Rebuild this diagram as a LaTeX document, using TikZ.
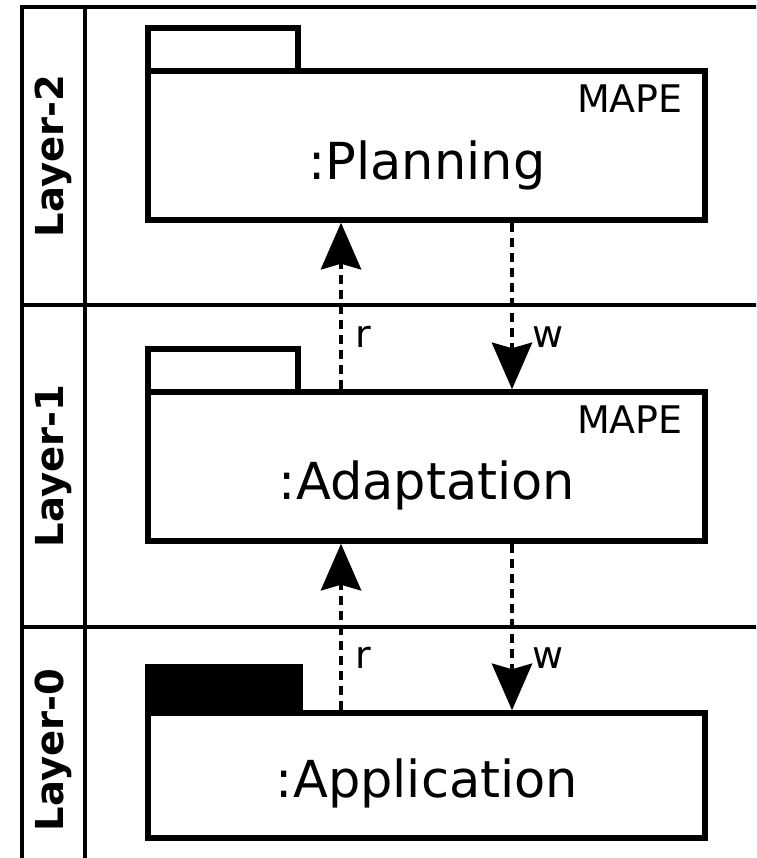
\documentclass[tikz,border=0pt]{standalone}
\usepackage{fontspec}
\setmainfont{DejaVu Sans}
\usetikzlibrary{arrows.meta}
\begin{document}
\begin{tikzpicture}[x=1pt,y=-1pt,
  frame/.style={line width=4pt},
  pkgbody/.style={draw,line width=5.5pt,rectangle,inner sep=0pt,minimum width=557pt},
  pkgtab/.style={draw,line width=5.5pt},
  pkgname/.style={anchor=base,inner sep=0pt,font=\fontsize{51}{60}\selectfont},
  stereo/.style={anchor=base east,inner sep=0pt,font=\fontsize{38}{46}\selectfont},
  layername/.style={rotate=90,inner sep=0pt,font=\bfseries\fontsize{38.5}{46}\selectfont},
  flow/.style={line width=4.5pt,dash pattern=on 9pt off 6pt,
    -{Stealth[length=47pt,width=41pt,inset=6pt,line width=0pt]}},
  flowlabel/.style={anchor=base west,inner sep=0pt,font=\fontsize{38}{46}\selectfont}
]
\useasboundingbox (0,0) rectangle (756,858);
\clip (0,0) rectangle (756,858);

% layer frame
\draw[frame] (22,900) -- (22,7) -- (800,7);
\draw[frame] (85,7) -- (85,900);
\draw[frame] (22,305) -- (800,305);
\draw[frame] (22,627) -- (800,627);

% layer names
\node[layername] (l2) at (53.5,156) {Layer-2};
\node[layername] (l1) at (53.5,466) {Layer-1};
\node[layername] (l0) at (53.5,750) {Layer-0};

% packages
\draw[pkgtab] (148,28) rectangle (298,71);
\node[pkgbody,minimum height=149pt] (plan) at (426.5,145.5) {};
\node[stereo] (planst) at (683,113) {MAPE};
\node[pkgname] (plantx) at (427,180) {:Planning};

\draw[pkgtab] (148,349) rectangle (298,392);
\node[pkgbody,minimum height=149pt] (adapt) at (426.5,466.5) {};
\node[stereo] (adaptst) at (683,433) {MAPE};
\node[pkgname] (adapttx) at (427,499) {:Adaptation};

\draw[pkgtab,fill=black] (148,667) rectangle (300,713);
\node[pkgbody,minimum height=125pt] (app) at (426.5,775.5) {};
\node[pkgname] (apptx) at (427,797) {:Application};

% read / write dependencies
\coordinate (rx) at (341,0);
\coordinate (wx) at (512,0);
\draw[flow] (adapt.north -| rx) -- (plan.south -| rx);
\draw[flow] (plan.south -| wx) -- (adapt.north -| wx);
\draw[flow] (app.north -| rx) -- (adapt.south -| rx);
\draw[flow] (adapt.south -| wx) -- (app.north -| wx);

\node[flowlabel] (r1) at (355,347) {r};
\node[flowlabel] (w1) at (532,347) {w};
\node[flowlabel] (r0) at (355,668) {r};
\node[flowlabel] (w0) at (532,668) {w};
\end{tikzpicture}
\end{document}
